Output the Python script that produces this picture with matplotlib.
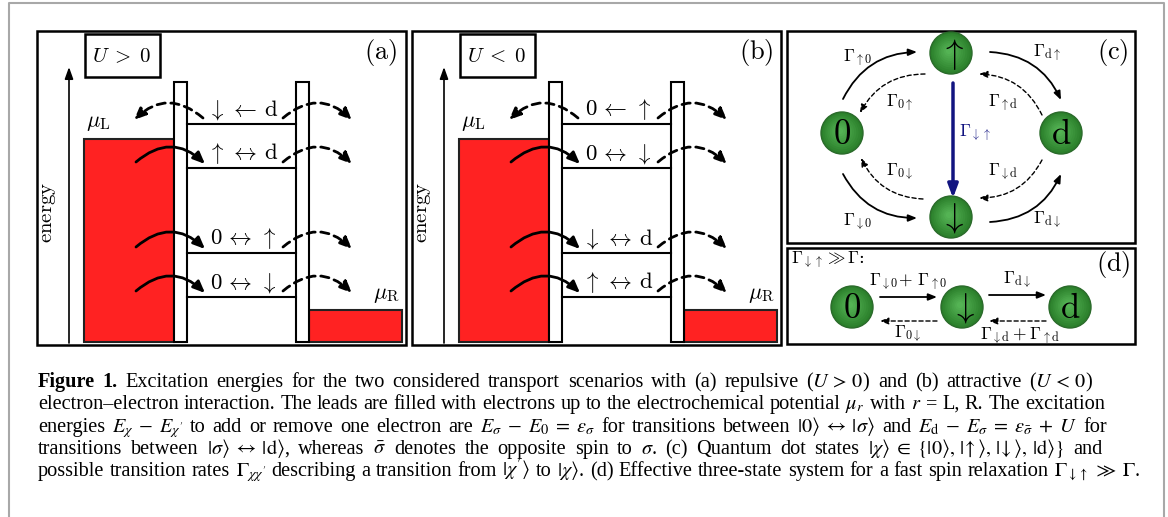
import matplotlib
matplotlib.use("Agg")
import matplotlib.pyplot as plt
from matplotlib.patches import Rectangle, Circle, FancyArrowPatch
import numpy as np

# ---------------- data (pixel units) ----------------
W, H = 1168, 517
panel_offsets = [0, 375]                 # x offset of panel (a) and (b)
panel_tags = [r'$(\mathrm{a})$', r'$(\mathrm{b})$']
panel_U = [r'$U\;>\;0$', r'$U\;<\;0$']
level_y = [124, 168, 253, 297]           # dot levels (top to bottom)
labels_a = [r'$\downarrow\,\leftarrow\,\mathrm{d}$', r'$\uparrow\,\leftrightarrow\,\mathrm{d}$',
            r'$0\,\leftrightarrow\,\uparrow$', r'$0\,\leftrightarrow\,\downarrow$']
labels_b = [r'$0\,\leftarrow\,\uparrow$', r'$0\,\leftrightarrow\,\downarrow$',
            r'$\downarrow\,\leftrightarrow\,\mathrm{d}$', r'$\uparrow\,\leftrightarrow\,\mathrm{d}$']
left_arrow_kind = ['out', 'in', 'in', 'in']
mu_L_top, mu_R_top, lead_bottom = 139, 310, 342

# panel (c) states
state_names = ['0', 'up', 'dn', 'd']
state_text = {'0': r'$0$', 'up': r'$\uparrow$', 'dn': r'$\downarrow$', 'd': r'$\mathrm{d}$'}
state_pos = {'0': (842, 133), 'up': (951, 53), 'dn': (951, 217), 'd': (1061, 133)}
# (start, end, dashed, label, label position)
c_arrows = [
    ((843, 99), (917, 52), False, r'$\Gamma_{\uparrow0}$', (858, 58)),
    ((925, 74), (860, 113), True, r'$\Gamma_{0\uparrow}$', (900, 103)),
    ((990, 52), (1061, 100), False, r'$\Gamma_{\mathrm{d}\uparrow}$', (1047, 53)),
    ((1042, 115), (979, 74), True, r'$\Gamma_{\uparrow\mathrm{d}}$', (1003, 103)),
    ((923, 199), (861, 158), True, r'$\Gamma_{0\downarrow}$', (900, 172)),
    ((843, 174), (917, 218), False, r'$\Gamma_{\downarrow0}$', (858, 222)),
    ((1042, 160), (979, 198), True, r'$\Gamma_{\downarrow\mathrm{d}}$', (1003, 172)),
    ((990, 222), (1061, 174), False, r'$\Gamma_{\mathrm{d}\downarrow}$', (1047, 220)),
]
c_center = (951, 135)
relax_label = r'$\Gamma_{\downarrow\uparrow}$'

# panel (d)
d_states = ['0', 'dn', 'd']
d_pos = {'0': (852, 307), 'dn': (962, 307), 'd': (1070, 307)}
d_arrows = [
    ((880, 297), (937, 297), False, r'$\Gamma_{\downarrow0}\!+\,\Gamma_{\uparrow0}$', (908, 282)),
    ((937, 321), (880, 321), True, r'$\Gamma_{0\downarrow}$', (908, 334)),
    ((989, 295), (1046, 295), False, r'$\Gamma_{\mathrm{d}\downarrow}$', (1017, 280)),
    ((1046, 321), (989, 321), True, r'$\Gamma_{\downarrow\mathrm{d}}+\Gamma_{\uparrow\mathrm{d}}$', (1020, 336)),
]

caption_bold = 'Figure 1.'
caption_lines = [
    r'Figure 1. Excitation energies for the two considered transport scenarios with (a) repulsive ($U\,>\,0$) and (b) attractive ($U\,<\,0$)',
    r'electron–electron interaction. The leads are filled with electrons up to the electrochemical potential $\mu_r$ with $r$ = L, R. The excitation',
    r'energies $E_\chi\;-\;E_{\chi^\prime}$ to add or remove one electron are $E_\sigma\;-\;E_0\;=\;\epsilon_\sigma$ for transitions between $|0\rangle\;\leftrightarrow\;|\sigma\rangle$ and $E_\mathrm{d}\;-\;E_\sigma\;=\;\epsilon_{\bar{\sigma}}\;+\;U$ for',
    r'transitions between $|\sigma\rangle\;\leftrightarrow\;|\mathrm{d}\rangle$, whereas $\bar{\sigma}$ denotes the opposite spin to $\sigma$. (c) Quantum dot states $|\chi\rangle\;\in\;\{|0\rangle,\,|\!\uparrow\rangle,\,|\!\downarrow\rangle,\,|\mathrm{d}\rangle\}$ and',
    r"possible transition rates $\Gamma_{\chi\chi'}$ describing a transition from $|\chi'\rangle$ to $|\chi\rangle$. (d) Effective three-state system for a fast spin relaxation $\Gamma_{\downarrow\uparrow}\;\gg\;\Gamma$.",
]
caption_y = [387, 409, 432, 454, 476]
caption_x0 = 38
caption_x1 = [1093, 1105, 1107, 1102, 1140]

# ---------------- drawing ----------------
plt.rcParams['mathtext.fontset'] = 'cm'
fig = plt.figure(figsize=(W / 100, H / 100), dpi=100)
ax = fig.add_axes([0, 0, 1, 1])
ax.set_xlim(0, W)
ax.set_ylim(H, 0)
ax.axis('off')

# outer gray frame
ax.plot([9, 9, 1164, 1164], [H, 3, 3, H], color='#a8a8a8', lw=1.5)


def arc_arrow(p0, p1, rad, bulge_dir, dashed, lw, hl, hw, color='black'):
    dx, dy = p1[0] - p0[0], p1[1] - p0[1]
    off = np.array([-dy, dx])
    s = np.sign(np.dot(off, bulge_dir)) or 1
    a = FancyArrowPatch(p0, p1, connectionstyle=f'arc3,rad={s * rad}',
                        arrowstyle=f'-|>,head_length={hl},head_width={hw}',
                        lw=lw, color=color, linestyle=(0, (3, 2)) if dashed else '-',
                        shrinkA=0, shrinkB=0, zorder=5)
    ax.add_patch(a)


for k, ox in enumerate(panel_offsets):
    ax.add_patch(Rectangle((37 + ox, 31), 369, 314, fill=False, lw=1.8, ec='black'))
    ax.add_patch(Rectangle((85 + ox, 34), 75, 43, fill=False, lw=1.8, ec='black'))
    ax.text(122 + ox, 56, panel_U[k], fontsize=15, ha='center', va='center')
    ax.text(381 + ox, 52, panel_tags[k], fontsize=19, ha='center', va='center')
    # energy axis
    ax.add_patch(FancyArrowPatch((69 + ox, 343), (69 + ox, 67),
                                 arrowstyle='-|>,head_length=7,head_width=2.5',
                                 lw=1.2, color='black', shrinkA=0, shrinkB=0))
    ax.text(48 + ox, 212, r'$\mathrm{energy}$', fontsize=15, rotation=90,
            ha='center', va='center')
    # leads
    ax.add_patch(Rectangle((84 + ox, mu_L_top), 90, lead_bottom - mu_L_top,
                           fc='#ff2222', ec='#222222', lw=1.5, zorder=2))
    ax.add_patch(Rectangle((309 + ox, mu_R_top), 93, lead_bottom - mu_R_top,
                           fc='#ff2222', ec='#222222', lw=1.5, zorder=2))
    ax.text(86 + ox, 133, r'$\mu_\mathrm{L}$', fontsize=16, ha='left', va='bottom')
    ax.text(400 + ox, 305, r'$\mu_\mathrm{R}$', fontsize=16, ha='right', va='bottom')
    # barriers
    for bx in (174, 296):
        ax.add_patch(Rectangle((bx + ox, 82), 13, lead_bottom - 82,
                               fc='white', ec='black', lw=1.5, zorder=3))
    labels = labels_a if k == 0 else labels_b
    for i, y in enumerate(level_y):
        ax.plot([187 + ox, 296 + ox], [y, y], color='black', lw=1.5, zorder=3)
        ax.text(243 + ox, y - 2, labels[i], fontsize=16.5, ha='center', va='bottom', zorder=6)
        if left_arrow_kind[i] == 'in':
            arc_arrow((136 + ox, y - 6), (205 + ox, y - 4), 0.45, (0, -1), False, 2.0, 7, 3)
        else:
            arc_arrow((203 + ox, y - 6), (134 + ox, y - 4), 0.45, (0, -1), True, 2.0, 7, 3)
        arc_arrow((283 + ox, y - 6), (352 + ox, y - 4), 0.45, (0, -1), True, 2.0, 7, 3)

# panel (c)
ax.add_patch(Rectangle((787, 31), 348, 212, fill=False, lw=1.8, ec='black'))
ax.text(1113, 53, r'$(\mathrm{c})$', fontsize=19, ha='center', va='center')


def state_circle(xy, txt, r=21):
    n = 10
    for j in range(n):
        t = j / (n - 1)
        c0 = np.array([0.17, 0.50, 0.17])
        c1 = np.array([0.33, 0.70, 0.33])
        col = c0 + (c1 - c0) * t
        rr = r * (1 - 0.85 * t)
        ax.add_patch(Circle((xy[0] - 2 * t, xy[1] - 2 * t), rr, fc=col, ec='none', zorder=7))
    ax.add_patch(Circle(xy, r, fill=False, ec='#2a6a2a', lw=1.0, zorder=8))
    ax.text(xy[0], xy[1] + 1, txt, fontsize=25, ha='center', va='center', zorder=9)


for s in state_names:
    state_circle(state_pos[s], state_text[s])
for p0, p1, dashed, lab, lp in c_arrows:
    mid = np.array([(p0[0] + p1[0]) / 2, (p0[1] + p1[1]) / 2])
    arc_arrow(p0, p1, 0.3, mid - np.array(c_center), dashed,
              1.0 if dashed else 1.3, 5, 2)
    ax.text(lp[0], lp[1], lab, fontsize=12.5, ha='center', va='center')
ax.add_patch(FancyArrowPatch((953, 83), (953, 198),
                             arrowstyle='-|>,head_length=8,head_width=3',
                             lw=2.5, color='#121480', shrinkA=0, shrinkB=0, zorder=5))
ax.text(975, 133, relax_label, fontsize=12.5, ha='center', va='center', color='#121480')

# panel (d)
ax.add_patch(Rectangle((787, 248), 348, 96, fill=False, lw=1.8, ec='black'))
ax.text(791, 260, r'$\Gamma_{\downarrow\uparrow}\gg\Gamma$:', fontsize=12.5,
        ha='left', va='center', family='DejaVu Serif')
ax.text(1113, 265, r'$(\mathrm{d})$', fontsize=19, ha='center', va='center')
for s in d_states:
    state_circle(d_pos[s], state_text[s])
for p0, p1, dashed, lab, lp in d_arrows:
    ax.add_patch(FancyArrowPatch(p0, p1, arrowstyle='-|>,head_length=5,head_width=2',
                                 lw=1.0 if dashed else 1.3, color='black',
                                 linestyle=(0, (3, 2)) if dashed else '-',
                                 shrinkA=0, shrinkB=0))
    ax.text(lp[0], lp[1], lab, fontsize=12.5, ha='center', va='center')

# caption, justified word by word
cap_font = dict(fontfamily='Liberation Serif', fontsize=14.6, math_fontfamily='stix')
fig.canvas.draw()
renderer = fig.canvas.get_renderer()
for li, (line, y, x1) in enumerate(zip(caption_lines, caption_y, caption_x1)):
    words = line.split(' ')
    texts = []
    for wi, w in enumerate(words):
        bold = li == 0 and wi < 2
        texts.append(ax.text(0, y, w, va='baseline', ha='left',
                             fontweight='bold' if bold else 'normal', **cap_font))
    widths = [t.get_window_extent(renderer).width for t in texts]
    gap = (x1 - caption_x0 - sum(widths)) / (len(words) - 1)
    x = caption_x0
    for t, wd in zip(texts, widths):
        t.set_x(x)
        x += wd + gap

fig.savefig('out.png', dpi=100)
